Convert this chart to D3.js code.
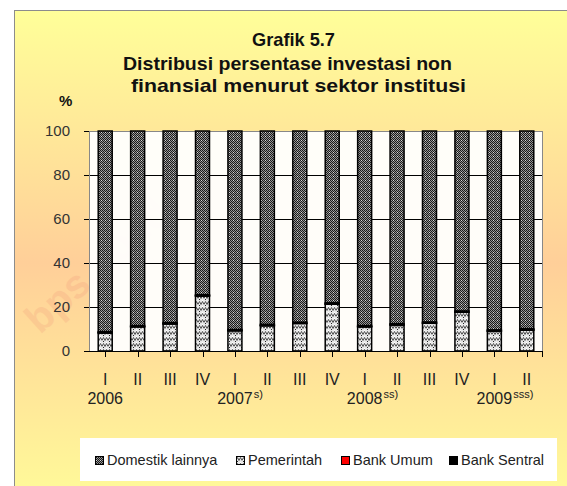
<!DOCTYPE html>
<html>
<head>
<meta charset="utf-8">
<script src="https://cdn.jsdelivr.net/npm/d3@7"></script>
<style>
  body { margin: 0; background: #fff; }
  svg text { font-family: "Liberation Sans", Arial, sans-serif; }
</style>
</head>
<body>
<div id="chart"></div>
<script>
// quarters along the x axis
const quarters = ["I", "II", "III", "IV", "I", "II", "III", "IV", "I", "II", "III", "IV", "I", "II"];
const yearLabels = ["2006", "2007", "2008", "2009"];
const yearSups = ["", "s)", "ss)", "sss)"];
const yearStart = [0, 4, 8, 12];

// series values (%)
const pemerintah      = [8.2, 11.0, 12.3, 25.0, 9.2, 11.5, 12.5, 21.3, 11.0, 11.8, 12.6, 17.6, 9.0, 9.5];
const bankUmum        = [0.1, 0.1, 0.1, 0.1, 0.1, 0.1, 0.1, 0.1, 0.1, 0.1, 0.1, 0.1, 0.1, 0.1];
const bankSentral     = [0.5, 0.5, 0.5, 0.5, 0.5, 0.5, 0.5, 0.5, 0.5, 0.5, 0.5, 0.5, 0.5, 0.5];
const domestikLainnya = [91.2, 88.4, 87.1, 74.4, 90.2, 87.9, 86.9, 78.1, 88.4, 87.6, 86.8, 81.8, 90.4, 89.9];
const yTicks = [0, 20, 40, 60, 80, 100];

const W = 567, H = 486;
const plot = { left: 89, top: 131, right: 543, bottom: 351 };

const svg = d3.select("#chart").append("svg")
    .attr("width", W)
    .attr("height", H);

const defs = svg.append("defs");

// background gradient of the frame
const grad = defs.append("linearGradient")
    .attr("id", "bg").attr("x1", 0).attr("y1", 0).attr("x2", 0).attr("y2", 1);
grad.append("stop").attr("offset", "0%").attr("stop-color", "#FFFF99");
grad.append("stop").attr("offset", "52%").attr("stop-color", "#FFCF99");
grad.append("stop").attr("offset", "100%").attr("stop-color", "#FFFA99");

// dense dark pattern (Domestik lainnya)
const pDom = defs.append("pattern")
    .attr("id", "pDom").attr("patternUnits", "userSpaceOnUse")
    .attr("width", 4).attr("height", 4);
pDom.append("rect").attr("width", 4).attr("height", 4).attr("fill", "#959595");
[[0,0],[2,0],[1,1],[3,1],[0,2],[2,2],[1,3],[3,3]].forEach(([px, py]) => {
    pDom.append("rect").attr("x", px).attr("y", py).attr("width", 1).attr("height", 1).attr("fill", "#1a1a1a");
});
pDom.append("rect").attr("x", 1).attr("y", 0).attr("width", 1).attr("height", 1).attr("fill", "#d8d8d8");

// light weave pattern (Pemerintah)
const pPem = defs.append("pattern")
    .attr("id", "pPem").attr("patternUnits", "userSpaceOnUse")
    .attr("width", 6).attr("height", 6);
pPem.append("rect").attr("width", 6).attr("height", 6).attr("fill", "#e8e8e8");
pPem.append("path")
    .attr("d", "M0,4.5 L1.5,1.5 L3,4.5 L4.5,1.5 L6,4.5")
    .attr("fill", "none").attr("stroke", "#555").attr("stroke-width", 1);
pPem.append("rect").attr("x", 1).attr("y", 5).attr("width", 1).attr("height", 1).attr("fill", "#222");
pPem.append("rect").attr("x", 4).attr("y", 0).attr("width", 1).attr("height", 1).attr("fill", "#fff");

// frame
svg.append("rect")
    .attr("x", 14.5).attr("y", 10.5)
    .attr("width", W).attr("height", H)
    .attr("fill", "url(#bg)")
    .attr("stroke", "#8c8c8c");

// title
const titleLines = [
    { text: "Grafik 5.7", x: 252, y: 46, len: 83 },
    { text: "Distribusi persentase investasi non", x: 123, y: 70, len: 329 },
    { text: "finansial  menurut sektor institusi", x: 131, y: 92, len: 335 }
];
svg.selectAll(".title")
    .data(titleLines)
    .enter().append("text")
    .attr("class", "title")
    .attr("x", d => d.x)
    .attr("y", d => d.y)
    .attr("textLength", d => d.len)
    .attr("lengthAdjust", "spacingAndGlyphs")
    .style("font-size", "19px")
    .style("font-weight", "bold")
    .style("fill", "#111")
    .text(d => d.text);

svg.append("text")
    .attr("x", 59).attr("y", 106)
    .style("font-size", "15px").style("font-weight", "bold").style("fill", "#111")
    .text("%");

// faint watermark (behind the plot)
svg.append("text")
    .attr("transform", "translate(40,335) rotate(-42)")
    .style("font-size", "40px")
    .style("font-weight", "bold")
    .style("fill", "#e06060")
    .style("opacity", 0.12)
    .text("bps.go.id");

// scales
const x = d3.scaleBand()
    .domain(d3.range(quarters.length))
    .range([plot.left, plot.right]);

const y = d3.scaleLinear()
    .domain([0, 100])
    .range([plot.bottom, plot.top]);

// plot area
svg.append("rect")
    .attr("x", plot.left).attr("y", plot.top)
    .attr("width", plot.right - plot.left).attr("height", plot.bottom - plot.top)
    .attr("fill", "#fff")
    .attr("fill-opacity", 0.94);

// gridlines
svg.append("g")
    .attr("transform", `translate(${plot.left},0)`)
    .call(d3.axisLeft(y).tickValues(yTicks.slice(1, -1)).tickSize(-(plot.right - plot.left)).tickFormat(""))
    .call(g => g.select(".domain").remove())
    .selectAll("line").attr("stroke", "#000");

svg.append("rect")
    .attr("x", plot.left + 0.5).attr("y", plot.top + 0.5)
    .attr("width", plot.right - plot.left - 1).attr("height", plot.bottom - plot.top)
    .attr("fill", "none").attr("stroke", "#888");

// y axis
const yAxis = svg.append("g")
    .attr("transform", `translate(${plot.left},0)`)
    .call(d3.axisLeft(y).tickValues(yTicks).tickSize(5).tickPadding(14));
yAxis.select(".domain").remove();
yAxis.selectAll("line").attr("stroke", "#000");
yAxis.selectAll("text")
    .style("font-size", "15px")
    .style("fill", "#333")
    .style("font-family", "Liberation Sans, Arial, sans-serif");

// stacked bars
const seriesKeys = ["pemerintah", "bankUmum", "bankSentral", "domestikLainnya"];
const seriesFill = { pemerintah: "url(#pPem)", bankUmum: "#FF0000", bankSentral: "#000", domestikLainnya: "url(#pDom)" };
const table = quarters.map((q, i) => ({
    pemerintah: pemerintah[i],
    bankUmum: bankUmum[i],
    bankSentral: bankSentral[i],
    domestikLainnya: domestikLainnya[i]
}));
const stacked = d3.stack().keys(seriesKeys)(table);

const barW = 14;
svg.append("g").selectAll("g")
    .data(stacked)
    .enter().append("g")
    .attr("fill", d => seriesFill[d.key])
    .selectAll("rect")
    .data(d => d.map((v, i) => ({ v, i })))
    .enter().append("rect")
    .attr("x", d => x(d.i) + x.bandwidth() / 2 - barW / 2)
    .attr("y", d => y(d.v[1]))
    .attr("width", barW)
    .attr("height", d => y(d.v[0]) - y(d.v[1]))
    .attr("stroke", "#000")
    .attr("stroke-width", 1.5);

// x axis
svg.append("line")
    .attr("x1", plot.left - 5).attr("x2", plot.right)
    .attr("y1", plot.bottom + 0.5).attr("y2", plot.bottom + 0.5)
    .attr("stroke", "#000");

svg.append("g").selectAll("line")
    .data(d3.range(quarters.length))
    .enter().append("line")
    .attr("x1", d => Math.round(x(d) + x.bandwidth() / 2) + 0.5)
    .attr("x2", d => Math.round(x(d) + x.bandwidth() / 2) + 0.5)
    .attr("y1", plot.bottom).attr("y2", plot.bottom + 6)
    .attr("stroke", "#000");
svg.append("line")
    .attr("x1", plot.right - 0.5).attr("x2", plot.right - 0.5)
    .attr("y1", plot.bottom).attr("y2", plot.bottom + 6)
    .attr("stroke", "#000");

svg.append("g").selectAll("text")
    .data(quarters)
    .enter().append("text")
    .attr("x", (d, i) => x(i) + x.bandwidth() / 2)
    .attr("y", 385)
    .attr("text-anchor", "middle")
    .style("font-size", "16px")
    .style("fill", "#222")
    .text(d => d);

yearLabels.forEach((yr, k) => {
    const cx = x(yearStart[k]) + x.bandwidth() / 2;
    const t = svg.append("text")
        .attr("x", cx).attr("y", 404)
        .attr("text-anchor", "middle")
        .style("font-size", "16px")
        .style("fill", "#222")
        .text(yr);
    const w = t.node().getComputedTextLength();
    if (yearSups[k]) {
        svg.append("text")
            .attr("x", cx + w / 2 + 1).attr("y", 398)
            .style("font-size", "11px")
            .style("fill", "#222")
            .text(yearSups[k]);
    }
});

// legend
svg.append("rect")
    .attr("x", 80).attr("y", 438)
    .attr("width", 477).attr("height", 43)
    .attr("fill", "#fff");

const legendItems = [
    { name: "Domestik lainnya", key: "domestikLainnya", x: 95 },
    { name: "Pemerintah", key: "pemerintah", x: 236 },
    { name: "Bank Umum", key: "bankUmum", x: 341 },
    { name: "Bank Sentral", key: "bankSentral", x: 449 }
];
const leg = svg.append("g").selectAll("g")
    .data(legendItems)
    .enter().append("g")
    .attr("transform", d => `translate(${d.x},0)`);
leg.append("rect")
    .attr("x", 0.5).attr("y", 456.5)
    .attr("width", 8).attr("height", 8)
    .attr("fill", d => seriesFill[d.key])
    .attr("stroke", "#000");
leg.append("text")
    .attr("x", 12).attr("y", 465)
    .style("font-size", "14.5px")
    .style("fill", "#222")
    .text(d => d.name);
</script>
</body>
</html>
